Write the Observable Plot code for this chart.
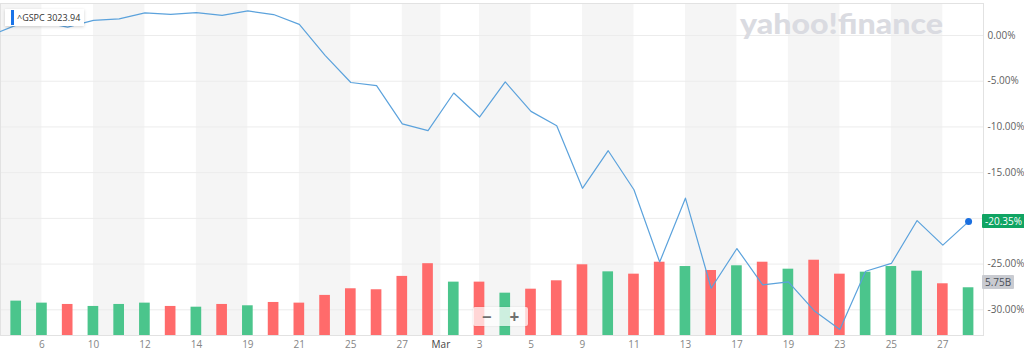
<!DOCTYPE html>
<html><head><meta charset="utf-8">
<script src="https://cdn.jsdelivr.net/npm/d3@7"></script>
<script src="https://cdn.jsdelivr.net/npm/@observablehq/plot@0.6"></script>
<style>
html,body{margin:0;padding:0;background:#fff;}
#chart{position:relative;width:1024px;height:355px;overflow:hidden;font-family:"Open Sans",sans-serif;}
#chart svg{position:absolute;left:0;top:0;}
.lbl{position:absolute;font-size:10px;line-height:14px;padding:0 3px;border-radius:1px;white-space:nowrap;}
</style></head><body><div id="chart"></div>
<script>
// ---- data (S&P 500, % change vs. first close; volume in billions) ----
const dates = ["Feb 4","Feb 5","Feb 6","Feb 7","Feb 10","Feb 11","Feb 12","Feb 13","Feb 14","Feb 18","Feb 19","Feb 20","Feb 21","Feb 24","Feb 25","Feb 26","Feb 27","Feb 28","Mar 2","Mar 3","Mar 4","Mar 5","Mar 6","Mar 9","Mar 10","Mar 11","Mar 12","Mar 13","Mar 16","Mar 17","Mar 18","Mar 19","Mar 20","Mar 23","Mar 24","Mar 25","Mar 26","Mar 27","Mar 30"];
const pctChange = [0.00,1.13,1.46,0.91,1.65,1.82,2.48,2.32,2.50,2.21,2.69,2.29,1.22,-2.17,-5.14,-5.49,-9.67,-10.41,-6.29,-8.92,-5.08,-8.30,-9.86,-16.71,-12.60,-16.87,-24.77,-17.79,-27.64,-23.30,-27.28,-26.94,-30.10,-32.15,-25.78,-24.93,-20.24,-22.93,-20.35];
const volumeB = [null,4.14,3.90,3.74,3.50,3.74,3.90,3.50,3.41,3.74,3.58,3.98,3.90,4.83,5.63,5.51,7.12,8.65,6.43,6.43,5.10,5.58,6.59,8.52,7.67,7.39,8.83,8.31,7.83,8.40,8.83,7.99,9.07,7.39,7.63,8.31,7.75,6.23,5.75];
const tickDates = ["Feb 6","Feb 10","Feb 12","Feb 14","Feb 19","Feb 21","Feb 25","Feb 27","Mar 1","Mar 3","Mar 5","Mar 9","Mar 11","Mar 13","Mar 17","Mar 19","Mar 23","Mar 25","Mar 27"];
const tickLabels = ["6","10","12","14","19","21","25","27","Mar","3","5","9","11","13","17","19","23","25","27"];
const pctTicks = [0,-5,-10,-15,-20,-25,-30];
const symbol = "^GSPC";
const symbolPrice = "3023.94";
const lastVolumeLabel = "5.75B";
const brand = "yahoo!finance";

// ---- derived tables ----
const series = dates.map((d,i)=>({date:d, i, pct:pctChange[i], vol:volumeB[i], up: i>0 ? pctChange[i]>=pctChange[i-1] : true}));
const bars = series.filter(d=>d.vol!=null);
const tickPos = tickDates.map(td=>{
  const k = dates.indexOf(td);
  if (k>=0) return k;
  const mon = td.split(" ")[0];
  return dates.findIndex(d=>d.startsWith(mon)) - 0.5;
});
const ticks = tickPos.map((p,k)=>({pos:p, label:tickLabels[k]}));
const xDomain = [0.39, 38.58];
const bounds = [xDomain[0], ...tickPos, xDomain[1]];
const stripes = bounds.slice(0,-1).map((a,k)=>({a, b:bounds[k+1], k})).filter(s=>s.k%2===0);

const W=1024,H=355;
const common = {width:W,height:H,marginLeft:0,marginRight:41,marginTop:3,marginBottom:20,
  style:{background:"transparent",fontFamily:"'Open Sans',sans-serif",fontSize:"10px",overflow:"visible"}};
const pctDomain = [-32.81, 3.5];

// Layer 1: background stripes, grid, frame, right axis
const layer1 = Plot.plot({...common,
  x:{type:"linear",domain:xDomain,axis:null},
  y:{domain:pctDomain,axis:null},
  marks:[
    Plot.rect(stripes,{x1:"a",x2:"b",fill:"#f5f5f5"}),
    Plot.ruleY(pctTicks,{stroke:"#ececec",strokeWidth:1}),
    Plot.frame({stroke:"#e2e2e2"}),
    Plot.axisY({anchor:"right",ticks:pctTicks.filter(t=>t!==-20),tickFormat:d=>d.toFixed(2)+"%",tickSize:0,tickPadding:4,label:null,fill:"#5f5f5f",textAnchor:"start"})
  ]});

// Layer 2: volume bars + x axis
const layer2 = Plot.plot({...common,
  x:{type:"linear",domain:xDomain,axis:null},
  y:{domain:[0,40],axis:null},
  marks:[
    Plot.rectY(bars,{x1:d=>d.i-0.207,x2:d=>d.i+0.207,y1:0,y2:"vol",fill:d=>d.up?"#4bc58c":"#ff6b6b"}),
    Plot.text(ticks,{x:"pos",text:"label",frameAnchor:"bottom",dy:12,fill:d=>d.label==="Mar"?"#444":"#858585",fontWeight:d=>d.label==="Mar"?600:400})
  ]});

// Layer 3: price line
const last = series[series.length-1];
const layer3 = Plot.plot({...common,
  x:{type:"linear",domain:xDomain,axis:null},
  y:{domain:pctDomain,axis:null},
  marks:[
    Plot.line(series,{x:"i",y:"pct",stroke:"#5ba2dc",strokeWidth:1.2,clip:true}),
    Plot.dot([last],{x:"i",y:"pct",r:3.5,fill:"#1a6fe0"})
  ]});

const chart = document.getElementById("chart");
chart.appendChild(layer1);

// watermark
const wm = d3.select(chart).append("svg").attr("width",W).attr("height",H);
wm.append("text").attr("x",740).attr("y",34).attr("textLength",203).attr("lengthAdjust","spacingAndGlyphs")
  .attr("font-family","Lato, 'Open Sans', sans-serif").attr("font-weight",900).attr("font-size",29)
  .attr("fill","#dadbe1").text(brand);

chart.appendChild(layer2);
chart.appendChild(layer3);

// value labels on right axis, positioned via Plot's scales
const yPct = layer3.scale("y");
const yVol = layer2.scale("y");
const pctLabel = document.createElement("div");
pctLabel.className="lbl";
pctLabel.textContent = last.pct.toFixed(2)+"%";
Object.assign(pctLabel.style,{left:"982px",top:(yPct.apply(last.pct)-7)+"px",background:"#10a463",color:"#fff"});
chart.appendChild(pctLabel);
const volLabel = document.createElement("div");
volLabel.className="lbl";
volLabel.textContent = lastVolumeLabel;
Object.assign(volLabel.style,{left:"982px",top:(yVol.apply(last.vol)-12)+"px",background:"#c9cbd1",color:"#4a5059"});
chart.appendChild(volLabel);

// legend box
const leg = document.createElement("div");
Object.assign(leg.style,{position:"absolute",left:"5px",top:"9px",height:"17px",padding:"0 4px 0 12px",background:"#fff",
  boxShadow:"0 1px 3px rgba(0,0,0,0.18)",fontSize:"9px",lineHeight:"17px",color:"#333",whiteSpace:"nowrap"});
const legBar = document.createElement("div");
Object.assign(legBar.style,{position:"absolute",left:"6px",top:"1px",width:"3px",height:"15px",background:"#1a73e8"});
leg.appendChild(legBar);
leg.appendChild(document.createTextNode(symbol+"\u00a0"+symbolPrice));
chart.appendChild(leg);

// zoom buttons
const zb = document.createElement("div");
Object.assign(zb.style,{position:"absolute",left:"473px",top:"307px",width:"55px",height:"19px",background:"rgba(255,255,255,0.72)",
  borderRadius:"2px",boxShadow:"0 0 2px rgba(0,0,0,0.12)",display:"flex",justifyContent:"space-around",alignItems:"center",
  fontSize:"17px",fontWeight:"700",color:"#707070",lineHeight:"19px"});
["\u2212","+"].forEach(s=>{const sp=document.createElement("span");sp.textContent=s;zb.appendChild(sp);});
chart.appendChild(zb);
</script>
</body></html>
